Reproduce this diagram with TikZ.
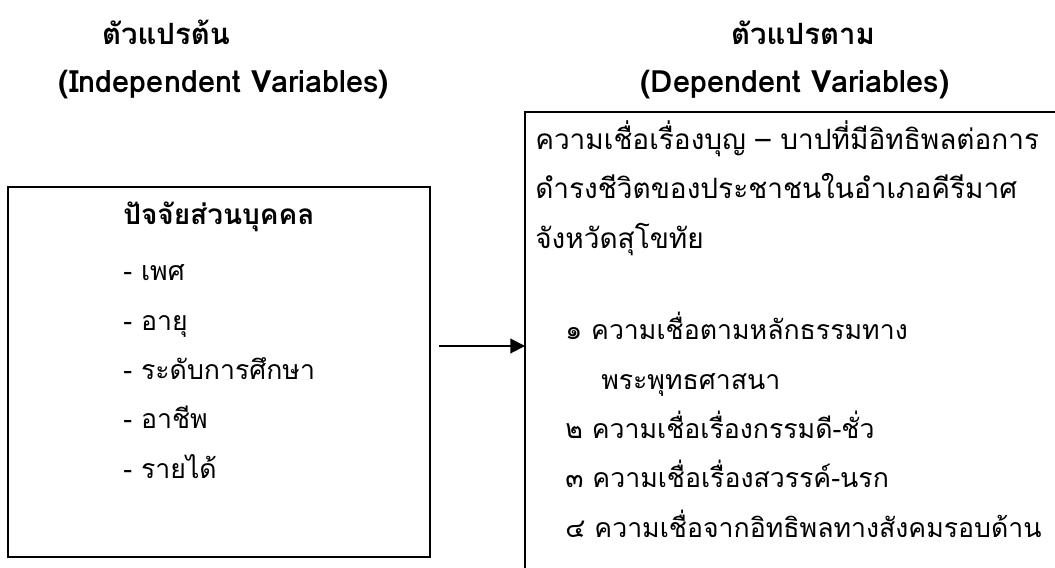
\documentclass[tikz,border=0pt]{standalone}
\usepackage{fontspec}
\setmainfont{Loma}[Script=Thai]
\usetikzlibrary{arrows.meta}
\newcommand\thaibody{\fontsize{20pt}{37pt}\selectfont}
\newcommand\thaihead{\fontsize{22pt}{37pt}\selectfont\bfseries}
\newcommand\latinhead{\fontsize{23pt}{37pt}\selectfont\bfseries}
\tikzstyle{varbox}=[draw, line width=1.5pt, inner sep=0pt, outer sep=0pt]
\tikzstyle{head}=[font=\thaihead, inner sep=0pt, anchor=base]
\tikzstyle{subhead}=[font=\latinhead, inner sep=0pt, anchor=base]
\tikzstyle{body}=[font=\thaibody, align=left, inner sep=0pt, anchor=base west]
\tikzstyle{arr}=[-{Triangle[length=11pt,width=11pt]}, line width=1.5pt]

\begin{document}
\begin{tikzpicture}[x=0.75pt,y=-0.75pt]
  \useasboundingbox (0,0) rectangle (1055,567);
  % Headings
  \node[head] (indhead) at (166,45) {ตัวแปรต้น};
  \node[subhead] (indsub) at (224,93) {(Independent Variables)};
  \node[head] (dephead) at (803,45) {ตัวแปรตาม};
  \node[subhead] (depsub) at (795,93) {(Dependent Variables)};
  % Boxes
  \node[varbox, minimum width=316.5pt, minimum height=277.5pt] (ind) at (219,372) {};
  \node[varbox, anchor=north west, minimum width=450pt, minimum height=400pt] (dep) at (525,112) {};
  % Box texts (anchored at the last line)
  \node[body] (indlist) at (123,478) {{\fontsize{21pt}{37pt}\selectfont\bfseries ปัจจัยส่วนบุคคล}\\[5pt]
    - เพศ\\
    - อายุ\\
    - ระดับการศึกษา\\
    - อาชีพ\\
    - รายได้};
  \node[body, font=\fontsize{21pt}{37pt}\selectfont] (deptitle) at (535,248) {ความเชื่อเรื่องบุญ – บาปที่มีอิทธิพลต่อการ\\
    ดำรงชีวิตของประชาชนในอำเภอคีรีมาศ\\
    จังหวัดสุโขทัย};
  \node[body] (deplist) at (565,537) {๑ ความเชื่อตามหลักธรรมทาง\\
    \hspace*{27pt}พระพุทธศาสนา\\
    ๒ ความเชื่อเรื่องกรรมดี-ชั่ว\\
    ๓ ความเชื่อเรื่องสวรรค์-นรก\\
    ๔ ความเชื่อจากอิทธิพลทางสังคมรอบด้าน};
  % Arrow
  \coordinate (tail) at (439,346);
  \draw[arr] (tail) -- (tail -| dep.west);
\end{tikzpicture}
\end{document}
